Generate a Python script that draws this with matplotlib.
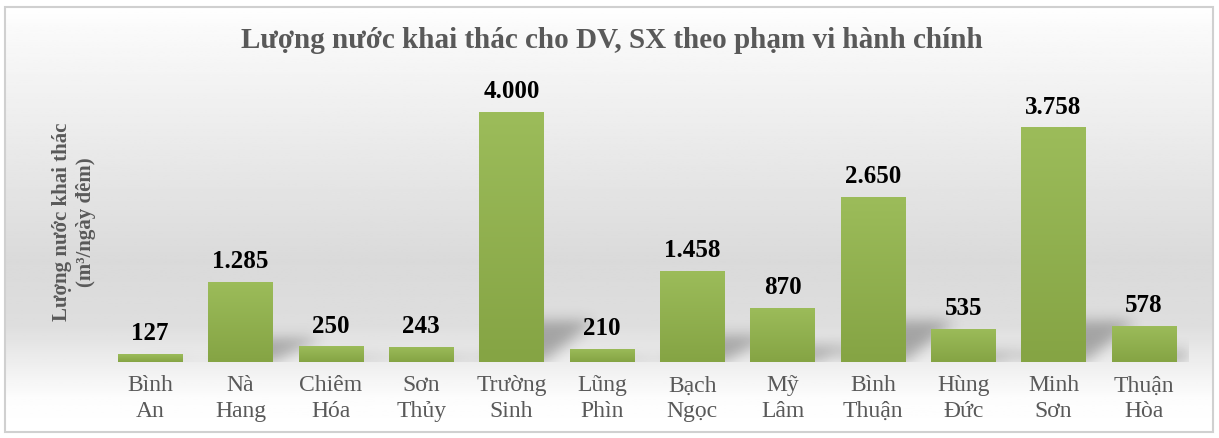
import numpy as np
import matplotlib
matplotlib.use("Agg")
import matplotlib.pyplot as plt
from matplotlib.patches import Rectangle
from matplotlib.path import Path
from matplotlib.colors import LinearSegmentedColormap

# data
communes = ['Bình\nAn', 'Nà\nHang', 'Chiêm\nHóa', 'Sơn\nThủy', 'Trường\nSinh', 'Lũng\nPhìn',
            'Bạch\nNgọc', 'Mỹ\nLâm', 'Bình\nThuận', 'Hùng\nĐức', 'Minh\nSơn', 'Thuận\nHòa']
water = [127, 1285, 250, 243, 4000, 210, 1458, 870, 2650, 535, 3758, 578]
value_labels = ['127', '1.285', '250', '243', '4.000', '210', '1.458', '870', '2.650', '535', '3.758', '578']

plt.rcParams['font.family'] = ['Liberation Serif', 'DejaVu Serif']

W, H = 1219, 439
fig = plt.figure(figsize=(W / 100, H / 100), dpi=100)

# background with vertical gradient, framed
bg = fig.add_axes([0, 0, 1, 1])
bg.set_xlim(0, W)
bg.set_ylim(H, 0)
bg.axis('off')
ys = np.linspace(0, 1, 200)
shade = np.interp(ys, [0, 0.05, 0.6, 0.75, 0.92, 1.0], [1.0, 0.98, 0.855, 0.87, 0.99, 1.0])
grad = np.repeat(shade[:, None], 2, axis=1)
bg.imshow(grad, cmap='gray', vmin=0, vmax=1, extent=[5, 1213, 433, 8], aspect='auto')
bg.add_patch(Rectangle((5, 8), 1208, 425, fill=False, ec='#d0d0d0', lw=1.5))

# plot area: baseline y=363 px, ylim 0..4500
ax = fig.add_axes([105 / W, 1 - 363 / H, 1084 / W, (363 - 82) / H])
ax.patch.set_alpha(0)
x = np.arange(len(water))
ymax = 4500
ax.set_xlim(-0.5, len(water) - 0.5)
ax.set_ylim(0, ymax)

# soft slanted shadows behind the bars
nx, ny = 1084, 281
gx, gy = np.meshgrid((np.arange(nx) + 0.5) / nx * len(water) - 0.5,
                     (np.arange(ny) + 0.5) / ny * ymax)
pts = np.column_stack([gx.ravel(), gy.ravel()])
mask = np.zeros(gx.size)
bw = 0.71
for xi, v in zip(x, water):
    hs = min(v * 0.3, 650)
    poly = Path([(xi - bw / 2, 0), (xi + bw / 2, 0), (xi + bw / 2 + 0.55, hs),
                 (xi - bw / 2 + 0.55, hs)])
    mask = np.maximum(mask, poly.contains_points(pts).astype(float))
mask = mask.reshape(ny, nx)
k = np.exp(-0.5 * (np.arange(-18, 19) / 7.0) ** 2)
k /= k.sum()
mask = np.apply_along_axis(lambda r: np.convolve(r, k, mode='same'), 1, mask)
mask = np.apply_along_axis(lambda c: np.convolve(c, k, mode='same'), 0, mask)
shadow = np.zeros((ny, nx, 4))
shadow[..., 3] = mask * 0.28
ax.imshow(shadow, extent=[-0.5, len(water) - 0.5, 0, ymax], origin='lower',
          aspect='auto', zorder=1, interpolation='bilinear')

# bars with a light vertical gradient
bars = ax.bar(x, water, width=bw, color='#96b753', zorder=3)
green = LinearSegmentedColormap.from_list('g', ['#85a444', '#9cbc5a'])
for b in bars:
    im = ax.imshow(np.linspace(0, 1, 100)[:, None], cmap=green, origin='lower',
                   extent=[b.get_x(), b.get_x() + b.get_width(), 0, b.get_height()],
                   aspect='auto', zorder=4)
    im.set_clip_path(b)
ax.set_xlim(-0.5, len(water) - 0.5)
ax.set_ylim(0, ymax)

for s in ax.spines.values():
    s.set_visible(False)
ax.set_yticks([])
ax.set_xticks(x)
ax.set_xticklabels(communes, fontsize=17, color='#595959', linespacing=1.3)
ax.tick_params(axis='x', length=0, pad=9)

for xi, v, lab in zip(x, water, value_labels):
    ax.annotate(lab, (xi, v), xytext=(0, 7), textcoords='offset points',
                ha='center', va='bottom', fontsize=18, fontweight='bold', color='black',
                zorder=5)

fig.text(612 / W, 1 - 40 / H, 'Lượng nước khai thác cho DV, SX theo phạm vi hành chính',
         ha='center', va='center', fontsize=21, fontweight='bold', color='#595959')
fig.text(74 / W, 1 - 222 / H, 'Lượng nước khai thác\n(m³/ngày đêm)', rotation=90,
         ha='center', va='center', fontsize=15, fontweight='bold', color='#595959',
         linespacing=1.25)

fig.savefig('out.png', dpi=100)
